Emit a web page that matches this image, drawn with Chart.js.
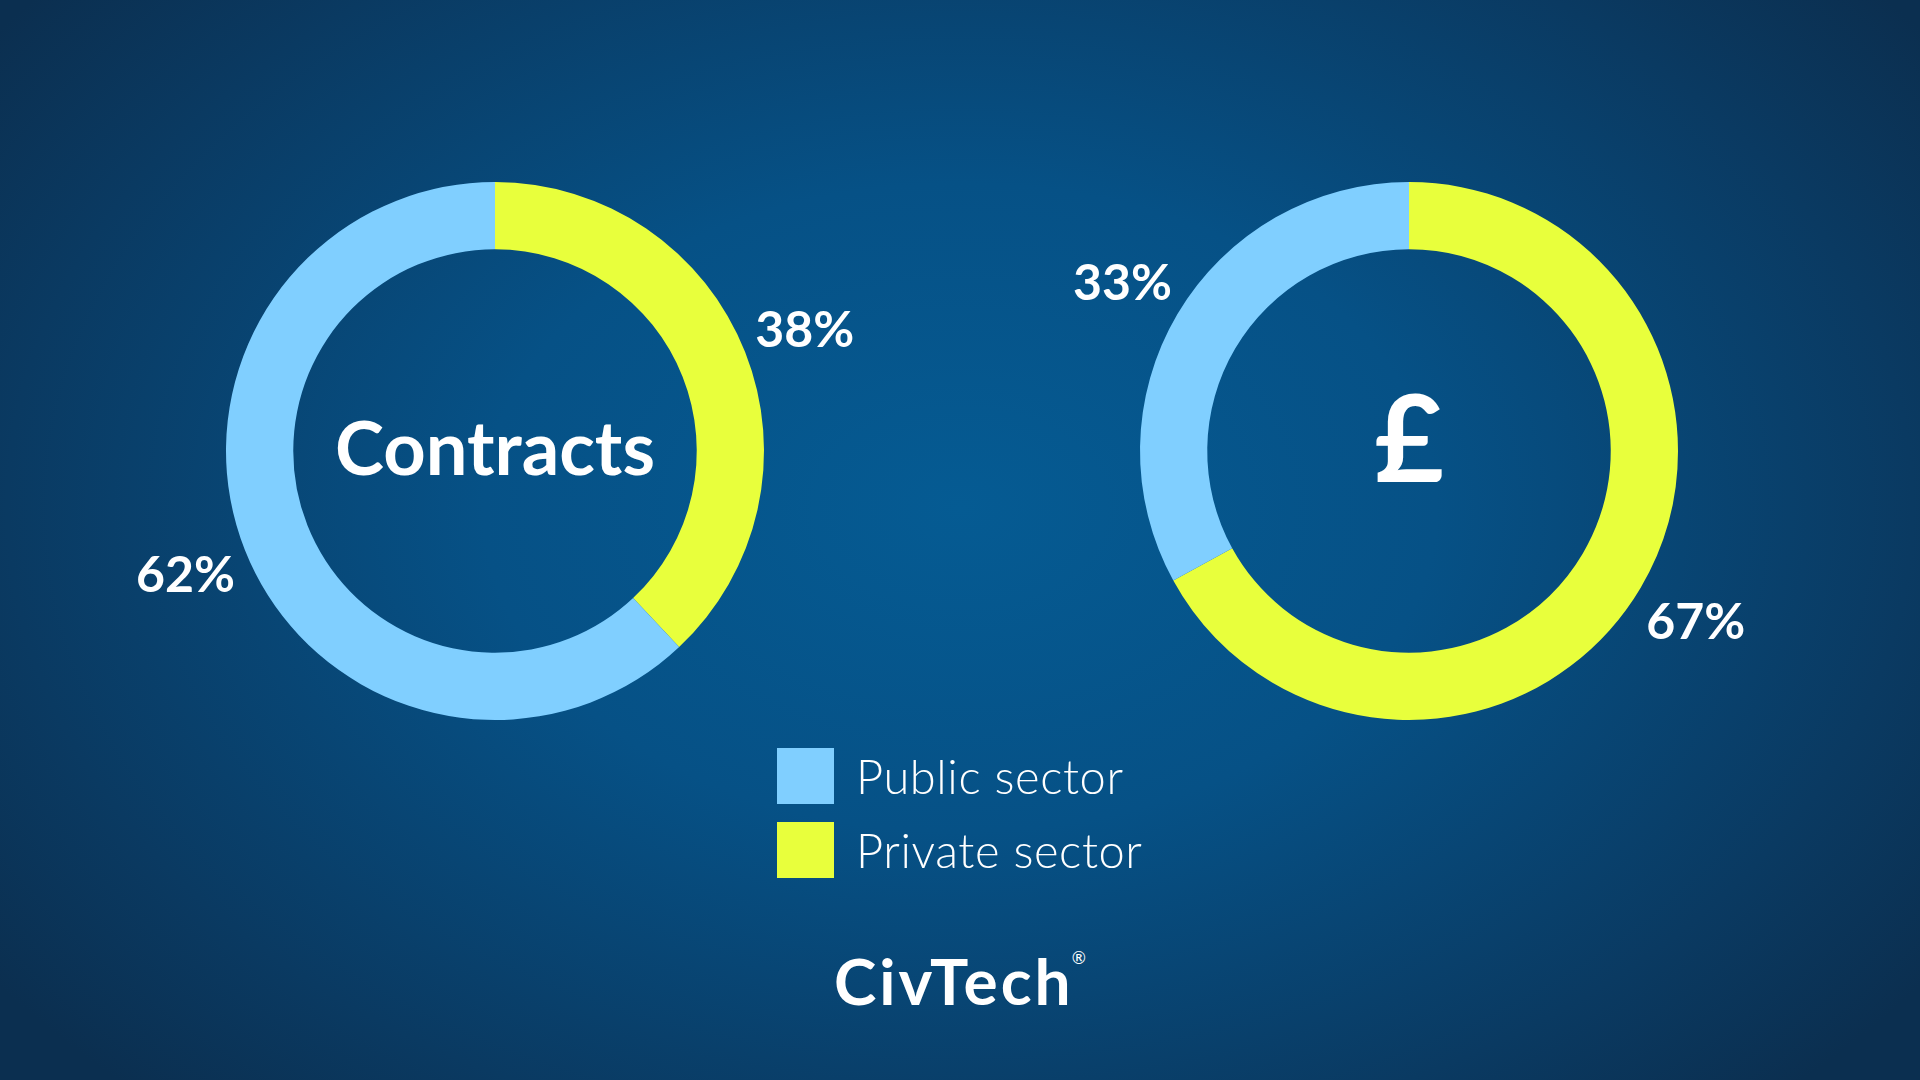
<!DOCTYPE html>
<html>
<head>
<meta charset="utf-8">
<script src="https://cdn.jsdelivr.net/npm/chart.js@4.4.0/dist/chart.umd.min.js"></script>
<style>
  html, body { margin: 0; padding: 0; }
  body {
    width: 1920px; height: 1080px; overflow: hidden; position: relative;
    background: radial-gradient(ellipse 62% 75% at 50% 47%, #055b93 0%, #065186 40%, #0a3a62 80%, #0b2f50 100%);
    font-family: Lato, "Open Sans", sans-serif;
  }
  .chart-box { position: absolute; width: 760px; height: 760px; }
  #legend { position: absolute; left: 777px; top: 748px; }
  .item { display: flex; align-items: center; height: 56px; margin-bottom: 18px; }
  .swatch { width: 57px; height: 56px; margin-right: 22px; }
  .item span { color: #fff; font-size: 47px; font-weight: 300; letter-spacing: 0.6px; }
  #logo { position: absolute; left: 834px; top: 943px; color: #fff; font-weight: 700; font-size: 64px; letter-spacing: 3px; line-height: 1.2; }
  #logo sup { font-size: 17px; font-weight: 400; position: relative; top: -19px; margin-left: -2px; letter-spacing: 0; }
</style>
</head>
<body>
<div class="chart-box" style="left:115px; top:71px;"><canvas id="contracts"></canvas></div>
<div class="chart-box" style="left:1029px; top:71px;"><canvas id="funding"></canvas></div>
<div id="legend"></div>
<div id="logo">CivTech<sup>®</sup></div>

<script>
// data
var sectors = ['Public sector', 'Private sector'];
var colours = ['#80cfff', '#e8ff3c'];
var contractsShare = [62, 38];
var fundingShare = [33, 67];

// private sector starts at 12 o'clock, so feed the slices in reverse
function reversed(arr) { return arr.slice().reverse(); }

var labelPlugin = {
  id: 'labels',
  afterDatasetsDraw: function (chart, args, opts) {
    var ctx = chart.ctx;
    var arcs = chart.getDatasetMeta(0).data;
    var values = chart.data.datasets[0].data;
    ctx.save();
    ctx.fillStyle = '#fff';
    ctx.textAlign = 'center';
    ctx.textBaseline = 'middle';
    ctx.font = 'bold 50px Lato, sans-serif';
    arcs.forEach(function (arc, i) {
      var mid = (arc.startAngle + arc.endAngle) / 2;
      var r = arc.outerRadius + 64;
      ctx.fillText(values[i] + '%', arc.x + Math.cos(mid) * r, arc.y + Math.sin(mid) * r + 2);
    });
    // centre text
    var a = arcs[0];
    ctx.font = 'bold ' + opts.size + 'px Lato, sans-serif';
    ctx.fillText(opts.text, a.x, a.y + opts.dy);
    ctx.restore();
  }
};

function makeChart(id, values, centreText, size, dy) {
  return new Chart(document.getElementById(id), {
    type: 'doughnut',
    data: {
      labels: reversed(sectors),
      datasets: [{
        data: reversed(values),
        backgroundColor: reversed(colours),
        borderWidth: 0
      }]
    },
    options: {
      responsive: false,
      animation: false,
      radius: 269,
      cutout: '75%',
      layout: { padding: 0 },
      plugins: {
        legend: { display: false },
        tooltip: { enabled: false },
        labels: { text: centreText, size: size, dy: dy }
      }
    },
    plugins: [labelPlugin]
  });
}

document.getElementById('contracts').width = 760;
document.getElementById('contracts').height = 760;
document.getElementById('funding').width = 760;
document.getElementById('funding').height = 760;

makeChart('contracts', contractsShare, 'Contracts', 74, 0);
makeChart('funding', fundingShare, '£', 120, -8);

// legend
var legend = document.getElementById('legend');
sectors.forEach(function (name, i) {
  var row = document.createElement('div');
  row.className = 'item';
  row.innerHTML = '<div class="swatch" style="background:' + colours[i] + '"></div><span>' + name + '</span>';
  legend.appendChild(row);
});
</script>
</body>
</html>
